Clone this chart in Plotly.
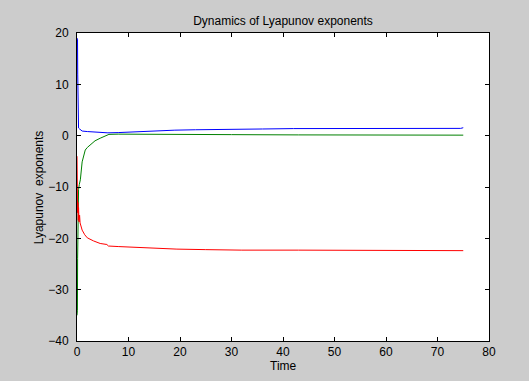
import plotly.graph_objects as go

# Lyapunov exponent estimates over time
t_blue = [0, 0.1, 0.14, 0.18, 0.22, 0.3, 0.5, 0.7, 1.0, 2, 3, 4, 5, 6, 8, 10, 13, 16, 19, 23, 28, 33, 36, 42, 50, 60, 70, 74.5, 75]
le_blue = [19, 18.8, 12, 5, 2.0, 1.5, 1.3, 1.1, 0.9, 0.8, 0.75, 0.7, 0.6, 0.55, 0.6, 0.7, 0.8, 0.95, 1.07, 1.15, 1.25, 1.28, 1.3, 1.38, 1.38, 1.4, 1.4, 1.42, 1.55]

t_green = [0, 0.08, 0.12, 0.16, 0.2, 0.25, 0.3, 0.45, 0.65, 1.0, 1.3, 1.6, 2.0, 2.6, 3.5, 4.5, 5.5, 6.2, 8, 12, 20, 30, 43, 60, 75]
le_green = [-35, -34, -24, -18, -14, -12, -10.5, -9.5, -8.6, -5.1, -3.8, -2.8, -2.3, -1.8, -1.0, -0.5, -0.1, 0.25, 0.3, 0.3, 0.25, 0.2, 0.15, 0.12, 0.1]

t_red = [0, 0.05, 0.12, 0.18, 0.24, 0.3, 0.4, 0.5, 0.6, 0.8, 1.0, 1.5, 2.0, 3.2, 4.5, 5.8, 6.1, 8, 10, 12.3, 16, 19.4, 25, 32, 43, 55, 65, 75]
le_red = [-4, -12, -15, -13, -16.5, -14, -16.8, -15.5, -17, -17.8, -18.4, -19.3, -19.9, -20.5, -21.0, -21.2, -21.5, -21.6, -21.7, -21.8, -22.0, -22.1, -22.2, -22.3, -22.3, -22.35, -22.4, -22.4]

x_ticks = [0, 10, 20, 30, 40, 50, 60, 70, 80]
y_ticks = [-40, -30, -20, -10, 0, 10, 20]

FONT = "Liberation Sans, Arial, sans-serif"

fig = go.Figure()
for tx, vy, col in [(t_blue, le_blue, "#0000ff"), (t_green, le_green, "#008000"), (t_red, le_red, "#ff0000")]:
    fig.add_trace(go.Scatter(x=tx, y=vy, mode="lines", line=dict(color=col, width=1),
                             showlegend=False, hoverinfo="skip", cliponaxis=False))

axis_common = dict(
    showgrid=False, zeroline=False, showline=True, linecolor="black", linewidth=1,
    mirror="allticks", ticks="inside", ticklen=4, tickcolor="black", tickwidth=1,
    tickfont=dict(family=FONT, size=12, color="black"),
)
fig.update_xaxes(range=[0, 80], tickvals=x_ticks, ticklabelstandoff=0, **axis_common)
fig.update_yaxes(range=[-40, 20], tickvals=y_ticks, ticklabelstandoff=5, **axis_common)

fig.update_layout(
    width=529, height=381,
    margin=dict(l=77, r=40, t=33, b=40),
    paper_bgcolor="#cccccc", plot_bgcolor="white",
    title=dict(text="Dynamics of Lyapunov exponents", x=0.535, xanchor="center",
               y=1 - 20.5 / 381, yanchor="middle",
               font=dict(family=FONT, size=12, color="black")),
    annotations=[
        dict(text="Time", xref="paper", yref="paper", x=0.5, y=-0.082,
             xanchor="center", yanchor="middle", showarrow=False,
             font=dict(family=FONT, size=12, color="black")),
        dict(text="Lyapunov  exponents", xref="paper", yref="paper", x=-0.0915, y=0.5,
             xanchor="center", yanchor="middle", textangle=-90, showarrow=False,
             font=dict(family=FONT, size=12, color="black")),
    ],
)

fig.write_html("out.html")
